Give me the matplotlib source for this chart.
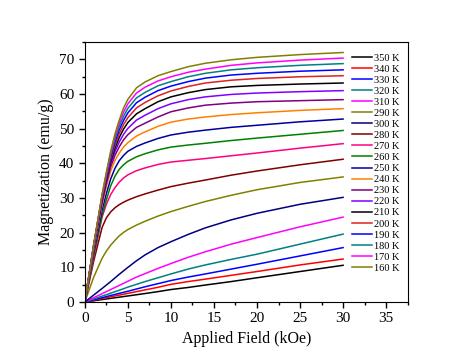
import matplotlib
matplotlib.use("Agg")
import matplotlib.pyplot as plt
from matplotlib.ticker import MultipleLocator

plt.rcParams['font.family'] = ['Liberation Serif', 'DejaVu Serif']

# field values (kOe) shared by all curves
field = [0, 1, 2, 2.5, 3, 3.5, 4, 4.5, 5, 6, 7, 8.5, 10, 12, 14, 17, 20, 25, 30]

# magnetization (emu/g) per temperature, in legend order
labels = ["350 K", "340 K", "330 K", "320 K", "310 K", "290 K", "300 K", "280 K",
          "270 K", "260 K", "250 K", "240 K", "230 K", "220 K", "210 K", "200 K",
          "190 K", "180 K", "170 K", "160 K"]
colors = ["#000000", "#FF0000", "#0000FF", "#008080", "#FF00FF", "#808000", "#000080", "#800000",
          "#FF0080", "#008000", "#0000A0", "#FF8000", "#800080", "#8000FF", "#000000", "#E02020",
          "#0000FF", "#008080", "#FF00FF", "#808000"]

m350 = [0, 0.35, 0.7, 0.88, 1.05, 1.23, 1.4, 1.58, 1.75, 2.1, 2.45, 3, 3.6, 4.2, 4.9, 5.9, 7, 8.8, 10.6]
m340 = [0, 0.5, 1, 1.25, 1.5, 1.75, 2, 2.25, 2.5, 3, 3.5, 4.25, 5.1, 5.9, 6.6, 7.7, 8.8, 10.7, 12.4]
m330 = [0, 0.63, 1.25, 1.56, 1.88, 2.2, 2.5, 2.8, 3.1, 3.75, 4.4, 5.3, 6.2, 7.2, 8.1, 9.5, 10.9, 13.3, 15.7]
m320 = [0, 0.85, 1.7, 2.1, 2.55, 3, 3.4, 3.85, 4.3, 5.1, 5.9, 7.0, 8.1, 9.5, 10.7, 12.3, 13.8, 16.7, 19.6]
m310 = [0, 1.2, 2.4, 3, 3.6, 4.2, 4.8, 5.4, 6, 7.2, 8.2, 9.7, 11.1, 12.9, 14.5, 16.7, 18.6, 21.7, 24.5]
m290 = [0, 7, 12.6, 14.7, 16.4, 17.8, 19.1, 20.1, 20.9, 22.2, 23.3, 24.8, 26.1, 27.6, 29, 30.8, 32.4, 34.5, 36.1]
m300 = [0, 1.95, 3.9, 4.9, 5.9, 6.95, 8.0, 9.0, 10.0, 11.9, 13.6, 15.7, 17.4, 19.5, 21.4, 23.7, 25.6, 28.2, 30.2]
m280 = [0, 11.5, 21.5, 24.3, 26, 27.2, 28.1, 28.8, 29.4, 30.4, 31.2, 32.3, 33.3, 34.3, 35.2, 36.6, 37.8, 39.6, 41.2]
m270 = [0, 12.5, 24.5, 28.2, 31, 33, 34.6, 35.8, 36.7, 37.9, 38.7, 39.7, 40.4, 40.9, 41.4, 42.2, 43, 44.4, 45.7]
m260 = [0, 13.2, 25, 29.5, 33.5, 36.3, 38.3, 39.6, 40.6, 41.9, 42.8, 43.9, 44.7, 45.3, 45.8, 46.6, 47.3, 48.4, 49.5]
m250 = [0, 14, 26.5, 31.3, 35.5, 38.6, 40.8, 42.3, 43.5, 44.9, 45.9, 47.2, 48.2, 49, 49.6, 50.4, 51, 52, 52.8]
m240 = [0, 14.8, 28, 33.3, 37.8, 40.8, 43, 44.7, 46, 47.9, 49.1, 50.7, 51.9, 52.8, 53.4, 54.1, 54.6, 55.3, 55.8]
m230 = [0, 15.3, 28.7, 34.2, 39, 42.3, 44.8, 46.8, 48.3, 50.4, 51.6, 53.4, 54.9, 56, 56.8, 57.4, 57.8, 58.1, 58.4]
m220 = [0, 15.6, 29.2, 34.8, 39.8, 43.4, 46.2, 48.4, 50.1, 52.5, 53.9, 55.8, 57.2, 58.4, 59.2, 59.9, 60.3, 60.7, 61.0]
m210 = [0, 15.8, 29.6, 35.3, 40.5, 44.4, 47.5, 49.9, 51.8, 54.3, 55.8, 57.8, 59.2, 60.4, 61.3, 62.1, 62.5, 62.9, 63.2]
m200 = [0, 16, 30, 35.8, 41.2, 45.3, 48.6, 51.2, 53.2, 56, 57.6, 59.5, 60.9, 62.2, 63.2, 64, 64.5, 65, 65.3]
m190 = [0, 16, 30.3, 36.3, 41.8, 46.2, 49.7, 52.4, 54.6, 57.5, 59.1, 61, 62.3, 63.6, 64.6, 65.5, 66, 66.6, 67.0]
m180 = [0, 16, 30.6, 36.7, 42.5, 47, 50.7, 53.6, 55.9, 58.9, 60.5, 62.4, 63.6, 65, 66, 67, 67.6, 68.3, 68.8]
m170 = [0, 16, 30.8, 37, 43, 47.8, 51.6, 54.8, 57.2, 60.3, 62, 63.8, 65, 66.3, 67.2, 68.3, 69, 69.8, 70.4]
m160 = [0, 16, 31, 37.5, 43.5, 48.5, 52.5, 56, 58.5, 61.8, 63.5, 65.3, 66.5, 67.9, 68.9, 69.9, 70.6, 71.4, 72.0]

series = [m350, m340, m330, m320, m310, m290, m300, m280, m270, m260,
          m250, m240, m230, m220, m210, m200, m190, m180, m170, m160]

fig = plt.figure(figsize=(4.74, 3.63), dpi=100)
ax = fig.add_axes([0.179, 0.168, 0.681, 0.716])

for m, c, lab in zip(series, colors, labels):
    ax.plot(field, m, color=c, lw=1.1, label=lab)

ax.set_xlim(0, 37.5)
ax.set_ylim(0, 75)
ax.xaxis.set_major_locator(MultipleLocator(5))
ax.xaxis.set_minor_locator(MultipleLocator(2.5))
ax.yaxis.set_major_locator(MultipleLocator(10))
ax.yaxis.set_minor_locator(MultipleLocator(5))
ax.tick_params(which='both', direction='out', top=False, right=False, labelsize=11)
ax.tick_params(which='major', length=4, width=1)
ax.tick_params(which='minor', length=2.5, width=1)

ax.set_xlabel("Applied Field (kOe)", fontsize=11.5)
ax.set_ylabel("Magnetization (emu/g)", fontsize=11.5)

ax.legend(loc='upper left', bbox_to_anchor=(0.82, 0.965), frameon=False,
          fontsize=7.5, labelspacing=0.17, handlelength=2.0, handletextpad=0.15,
          borderaxespad=0, borderpad=0.2, labelcolor='black')

fig.savefig("out.png", dpi=100)
